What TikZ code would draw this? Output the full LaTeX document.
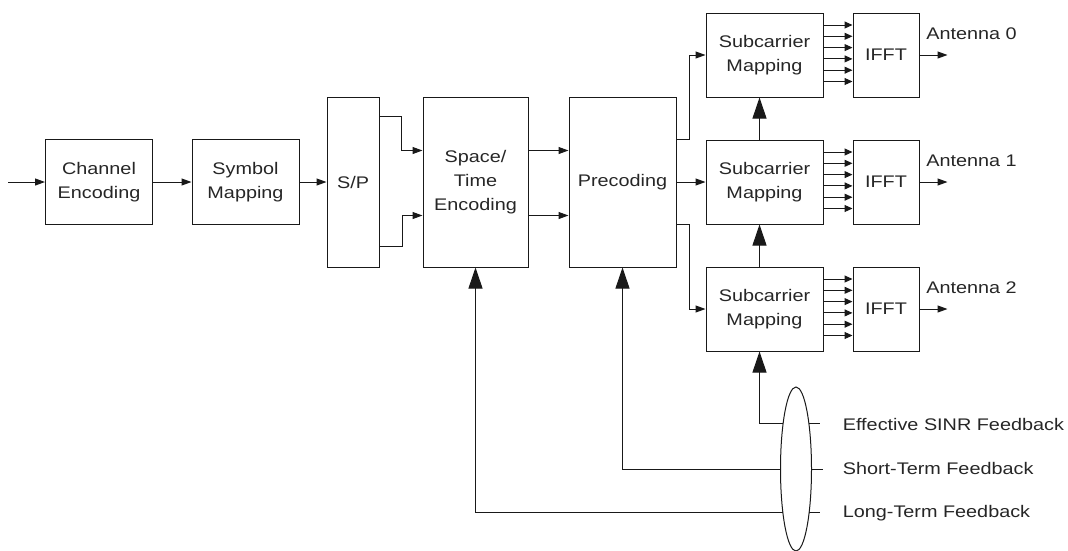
\documentclass[tikz,border=0pt]{standalone}
\usepackage{fontspec}
\setmainfont{Liberation Sans}[FakeStretch=1.18]
\usetikzlibrary{arrows.meta,shapes.geometric,calc}

\begin{document}
\begin{tikzpicture}[x=1pt, y=-1pt, line width=1pt, draw=black!90,
	blk/.style={draw, minimum width=107pt, minimum height=85pt, align=center, inner sep=0pt, font=\fontsize{16.8}{24}\selectfont, text=black!85},
	lbl/.style={font=\fontsize{16.8}{24}\selectfont, text=black!85},
	arr/.style={-{Triangle[length=10pt,width=7pt]}},
	tinyarr/.style={-{Triangle[length=8pt,width=7pt]}},
	bigarr/.style={-{Triangle[length=21pt,width=14pt]}}]
	\useasboundingbox (0,0) rectangle (1068,550);
	
	% transmit chain
	\coordinate (in) at (8,182);
	\node[blk] (chenc) at (99,182) {Channel\\Encoding};
	\node[blk] (symmap) at (245.5,182) {Symbol\\Mapping};
	\node[blk, minimum width=52pt, minimum height=170pt] (sp) at (353,182) {S/P};
	\node[blk, minimum width=105pt, minimum height=170pt] (stenc) at (475.5,182) {Space/\\Time\\Encoding};
	\node[blk, minimum height=170pt] (precod) at (622.5,182) {Precoding};
	\draw [arr] (in) -- (chenc.west);
	\draw [arr] (chenc) -- (symmap);
	\draw [arr] (symmap) -- (sp);
	\draw [arr] ($(sp.north east)+(0,20)$) -- ++(22,0) |- ($(stenc.north west)+(0,54)$);
	\draw [arr] ($(sp.south east)+(0,-21)$) -- ++(23,0) |- ($(stenc.south west)+(0,-52)$);
	\draw [arr] ($(stenc.north east)+(0,54)$) -- ($(precod.north west)+(0,54)$);
	\draw [arr] ($(stenc.south east)+(0,-52)$) -- ($(precod.south west)+(0,-52)$);
	
	% antenna branches
	\foreach \i/\y in {0/55,1/182,2/309} {
		\node[blk, minimum width=117pt, minimum height=84pt] (sc\i) at (764.5,\y) {Subcarrier\\Mapping};
		\node[blk, minimum width=66pt, minimum height=84pt] (ifft\i) at (886,\y) {IFFT};
		\foreach \k in {0,...,5}
			\draw [tinyarr] ($(sc\i.north east)+(0,12.5+11.3*\k)$) -- ($(ifft\i.north west)+(0,12.5+11.3*\k)$);
		\draw [arr] (ifft\i.east) -- ++(28,0) coordinate (ant\i);
		\node[lbl, anchor=west] (antlbl\i) at ($(ifft\i.east)+(3,-21)$) {Antenna \i};
	}
	\draw [arr] ($(precod.north east)+(0,43)$) -- ++(13,0) |- (sc0.west);
	\draw [arr] (precod.east) -- (sc1.west);
	\draw [arr] ($(precod.south east)+(0,-43)$) -- ++(13,0) |- (sc2.west);
	\draw [bigarr] ($(sc1.north)+(-5,0)$) -- ($(sc0.south)+(-5,0)$);
	\draw [bigarr] ($(sc2.north)+(-5,0)$) -- ($(sc1.south)+(-5,0)$);
	
	% feedback
	\node[draw, ellipse, minimum width=31pt, minimum height=164pt, inner sep=0pt] (fbk) at (796,469) {};
	\node[lbl, anchor=west] (fsinr) at ($(fbk.center)+(43,-45)$) {Effective SINR Feedback};
	\node[lbl, anchor=west] (fshort) at ($(fbk.center)+(43,-1)$) {Short-Term Feedback};
	\node[lbl, anchor=west] (flong) at ($(fbk.center)+(43,44)$) {Long-Term Feedback};
	\draw ($(fbk.center)+(12.8,-46)$) -- ++(11,0);
	\draw (fbk.east) -- ++(11,0);
	\draw ($(fbk.center)+(13,43)$) -- ++(11,0);
	\draw [bigarr] ($(fbk.center)+(-12.8,-46)$) -| ($(sc2.south)+(-5,0)$);
	\draw [bigarr] (fbk.west) -| (precod.south);
	\draw [bigarr] ($(fbk.center)+(-13,43)$) -| (stenc.south);
\end{tikzpicture}
\end{document}
